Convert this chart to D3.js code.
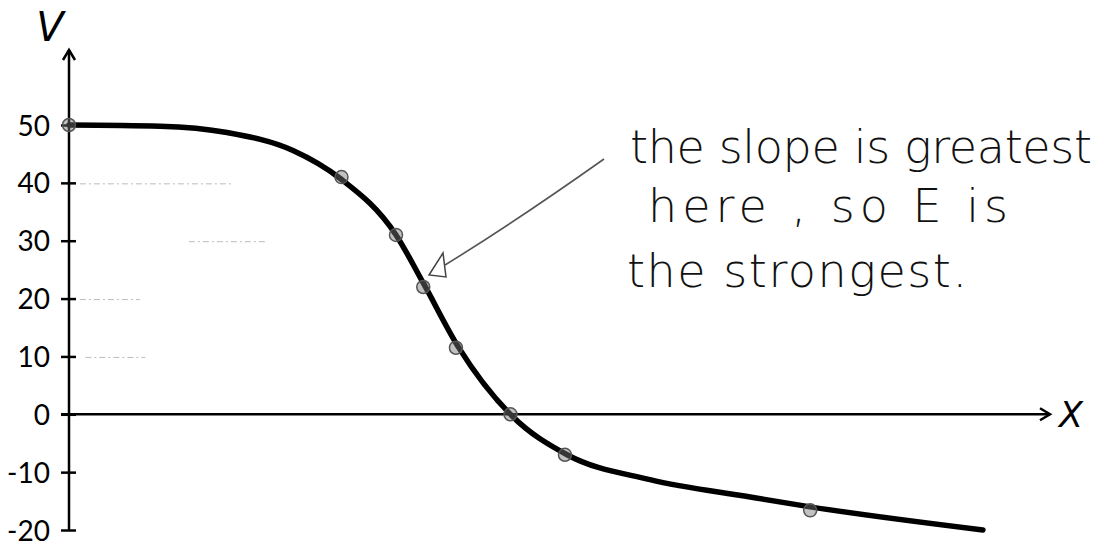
<!DOCTYPE html>
<html>
<head>
<meta charset="utf-8">
<script src="https://cdn.jsdelivr.net/npm/d3@7/dist/d3.min.js"></script>
<style>
  html, body { margin: 0; padding: 0; background: #fff; }
  svg { display: block; }
</style>
</head>
<body>
<svg id="chart" width="1114" height="546"></svg>
<script>
// Potential V along x: smooth drop from 50 to -20
const curveX = [0, 1.67, 2.9, 4.11, 4.97, 6.0, 6.5, 7.14, 8.13, 9.14, 10.66, 12.5, 13.6, 16.77];
const curveV = [50, 49.8, 48.7, 45.6, 40.8, 31.0, 22.7, 11.7, -0.3, -7.0, -11.3, -14.3, -16.0, -20];

// Measured points sitting on the curve
const pointX = [0, 5.0, 6.0, 6.5, 7.1, 8.1, 9.1, 13.6];
const pointV = [50, 41, 31, 22, 11.5, 0, -7, -16.6];

// Axis ticks
const yTicks = [50, 40, 30, 20, 10, 0, -10, -20];

// Faint pencil guide lines drawn from some ticks: [V, xStart, xEnd]
const guideV = [40, 30, 20, 10];
const guideStart = [0.2, 2.2, 0.2, 0.3];
const guideEnd = [3.0, 3.6, 1.3, 1.4];

// Handwritten note
const noteLines = ["the slope is greatest", "here , so E is", "the strongest."];

const svg = d3.select("#chart");
const x = d3.scaleLinear().domain([0, 18]).range([69, 1050]);
const y = d3.scaleLinear().domain([-20, 50]).range([530, 125]);

// Faint guide lines
svg.append("g").selectAll("line").data(guideV).join("line")
  .attr("x1", (d, i) => x(guideStart[i]))
  .attr("x2", (d, i) => x(guideEnd[i]))
  .attr("y1", d => y(d) + 1)
  .attr("y2", d => y(d) + 1)
  .attr("stroke", "#bbb")
  .attr("stroke-width", 1)
  .attr("stroke-dasharray", "6 3 2 3");

// Y axis with ticks crossing the line
const yAxis = svg.append("g")
  .attr("transform", `translate(${x(0)},0)`)
  .call(d3.axisLeft(y).tickValues(yTicks).tickSize(7).tickPadding(0).tickFormat(d => String(d)));
yAxis.select(".domain").remove();
yAxis.selectAll(".tick line")
  .attr("x1", -8).attr("x2", 7)
  .attr("stroke", "#000").attr("stroke-width", 2.5);
yAxis.selectAll(".tick text")
  .attr("x", -19)
  .attr("dy", "0.36em")
  .attr("fill", "#000")
  .style("font-family", "Lato, 'Open Sans', sans-serif")
  .style("font-size", "28px");

// Axis lines with arrow heads
function styled(sel) {
  return sel.attr("stroke", "#000").attr("stroke-width", 2.5).attr("fill", "none");
}

const yTop = 50;
styled(svg.append("line")
  .attr("x1", x(0)).attr("x2", x(0))
  .attr("y1", y(-20)).attr("y2", yTop));
styled(svg.append("path")
  .attr("d", `M${x(0) - 6},${yTop + 10} L${x(0)},${yTop} L${x(0) + 6},${yTop + 10}`));

const xEnd = x(18);
styled(svg.append("line")
  .attr("x1", x(0) - 8).attr("x2", xEnd)
  .attr("y1", y(0)).attr("y2", y(0)));
styled(svg.append("path")
  .attr("d", `M${xEnd - 10},${y(0) - 6} L${xEnd},${y(0)} L${xEnd - 10},${y(0) + 6}`));

// Axis letters
svg.append("text")
  .attr("x", 50).attr("y", 41)
  .attr("text-anchor", "middle")
  .style("font-family", "'DejaVu Sans', sans-serif")
  .style("font-style", "italic")
  .style("font-size", "40px")
  .text("V");
svg.append("text")
  .attr("x", 1071).attr("y", y(0) + 13)
  .attr("text-anchor", "middle")
  .style("font-family", "'DejaVu Sans', sans-serif")
  .style("font-style", "italic")
  .style("font-size", "35px")
  .text("X");

// The curve
const line = d3.line()
  .x((d, i) => x(curveX[i]))
  .y((d, i) => y(curveV[i]))
  .curve(d3.curveMonotoneX);
svg.append("path")
  .attr("d", line(curveV))
  .attr("fill", "none")
  .attr("stroke", "#000")
  .attr("stroke-width", 5.5)
  .attr("stroke-linecap", "round")
  .attr("stroke-linejoin", "round");

// Point markers
svg.append("g").selectAll("circle").data(pointV).join("circle")
  .attr("cx", (d, i) => x(pointX[i]))
  .attr("cy", d => y(d))
  .attr("r", 6.5)
  .attr("fill", "rgba(120,120,120,0.45)")
  .attr("stroke", "#555")
  .attr("stroke-width", 1.5);

// Pointer from the note to the steepest part of the curve
const tipX = 429, tipY = 275;
svg.append("path")
  .attr("d", `M${tipX + 16},${tipY - 10} Q515,222 604,159`)
  .attr("fill", "none")
  .attr("stroke", "#555")
  .attr("stroke-width", 1.6);
svg.append("path")
  .attr("d", `M443,253 L${tipX},${tipY} L446,277 Z`)
  .attr("fill", "none")
  .attr("stroke", "#444")
  .attr("stroke-width", 1.5);

// Note text
const noteSpecs = [
  { x: 630, y: 163, len: 462 },
  { x: 648, y: 222, len: 360 },
  { x: 627, y: 287, len: 340 }
];
svg.append("g").selectAll("text").data(noteLines).join("text")
  .attr("x", (d, i) => noteSpecs[i].x)
  .attr("y", (d, i) => noteSpecs[i].y)
  .attr("textLength", (d, i) => noteSpecs[i].len)
  .attr("lengthAdjust", "spacing")
  .attr("fill", "#111")
  .style("font-family", "'DejaVu Sans', sans-serif")
  .style("font-weight", 200)
  .style("font-size", "46px")
  .text(d => d);
</script>
</body>
</html>
